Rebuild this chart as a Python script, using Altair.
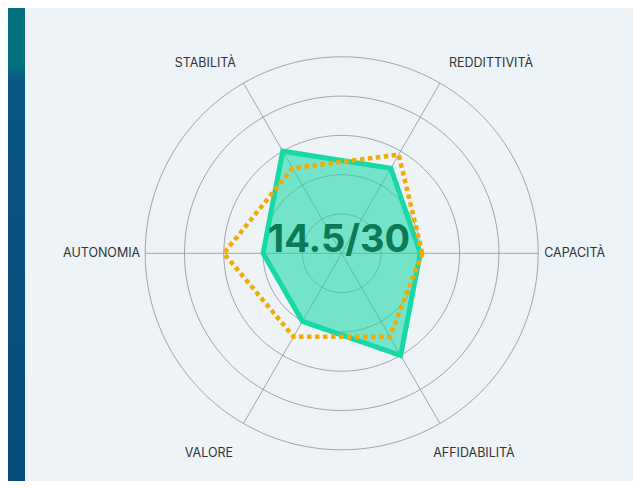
import altair as alt
import pandas as pd

# ---- data -------------------------------------------------------------
categories = ["CAPACITÀ", "REDDITTIVITÀ", "STABILITÀ", "AUTONOMIA", "VALORE", "AFFIDABILITÀ"]
company = [2.0, 2.5, 3.0, 2.0, 2.0, 3.0]
benchmark = [2.05, 2.9, 2.5, 3.0, 2.45, 2.45]
ring_levels = [1, 2, 3, 4, 5]
max_value = 5
score_text = "14.5/30"

# ---- geometry of the plot area ---------------------------------------
W, H = 625, 473
PX = 39.3            # pixels per unit
CX, CY = 333.7, 245.3  # centre of the radar inside the plot area
x_dom = [-CX / PX, (W - CX) / PX]
y_dom = [-(H - CY) / PX, CY / PX]
xs = alt.Scale(domain=x_dom, nice=False, zero=False)
ys = alt.Scale(domain=y_dom, nice=False, zero=False)

n = len(categories)
cat_df = pd.DataFrame({"cat": categories, "idx": list(range(n))})
series_df = pd.concat([
    pd.DataFrame({"cat": categories, "idx": list(range(n)), "value": company, "series": "company"}),
    pd.DataFrame({"cat": categories, "idx": list(range(n)), "value": benchmark, "series": "benchmark"}),
], ignore_index=True)

ANG = f"datum.idx * 2 * PI / {n}"
GRID = "#929292"


def X(field):
    return alt.X(field, type="quantitative", scale=xs, axis=None)


def Y(field):
    return alt.Y(field, type="quantitative", scale=ys, axis=None)


# decorative left strip (page background)
strip = alt.Chart(alt.Data(values=[{"a": 1}])).mark_rect(
    fill={
        "gradient": "linear", "x1": 0, "y1": 0, "x2": 0, "y2": 1,
        "stops": [
            {"offset": 0, "color": "#05717f"},
            {"offset": 0.12, "color": "#05717f"},
            {"offset": 0.16, "color": "#0a5486"},
            {"offset": 1, "color": "#074b7b"},
        ],
    }
).encode(x=alt.value(0), x2=alt.value(17), y=alt.value(0), y2=alt.value(H))

rings = (
    alt.Chart(alt.sequence(0, 362, 2, as_="deg"))
    .transform_calculate(level=str(ring_levels))
    .transform_flatten(["level"])
    .transform_calculate(
        x="datum.level * cos(datum.deg * PI / 180)",
        y="datum.level * sin(datum.deg * PI / 180)",
    )
    .mark_line(stroke=GRID, strokeWidth=0.8)
    .encode(x=X("x"), y=Y("y"), detail="level:N", order="deg:Q")
)

spokes = (
    alt.Chart(cat_df)
    .transform_calculate(a=ANG)
    .transform_calculate(
        x0="0", y0="0",
        x1=f"{max_value} * cos(datum.a)",
        y1=f"{max_value} * sin(datum.a)",
    )
    .mark_rule(stroke=GRID, strokeWidth=0.8)
    .encode(x=X("x0"), y=Y("y0"), x2="x1:Q", y2="y1:Q")
)


def polygon(name, **mark):
    return (
        alt.Chart(series_df)
        .transform_filter(alt.datum.series == name)
        .transform_calculate(a=ANG)
        .transform_calculate(x="datum.value * cos(datum.a)", y="datum.value * sin(datum.a)")
        .mark_line(interpolate="linear-closed", **mark)
        .encode(x=X("x"), y=Y("y"), order="idx:Q")
    )


poly_company = polygon(
    "company", stroke="#16d9a6", strokeWidth=5, fill="#16d9a6", fillOpacity=0.57,
    strokeJoin="miter",
)
poly_bench = polygon(
    "benchmark", stroke="#f3aa03", strokeWidth=4.5, strokeDash=[4.5, 3.5],
    strokeJoin="miter",
)

score = alt.Chart(alt.Data(values=[{"t": score_text, "x": 0, "y": 0}])).mark_text(
    font="Inter", fontSize=38, fontWeight="bold", color="#0a7a57",
    align="center", baseline="alphabetic", dx=-2.7, dy=-1,
).encode(x=X("x"), y=Y("y"), text="t:N")


def label(name, align, baseline, dx, dy):
    return (
        alt.Chart(cat_df)
        .transform_filter(alt.datum.cat == name)
        .transform_calculate(a=ANG)
        .transform_calculate(
            x=f"{max_value} * cos(datum.a)", y=f"{max_value} * sin(datum.a)"
        )
        .mark_text(
            font="Inter", fontSize=12.5, color="#333333",
            align=align, baseline=baseline, dx=dx, dy=dy,
        )
        .encode(x=X("x"), y=Y("y"), text="cat:N")
    )


labels = [
    label(categories[0], "left", "middle", 6, 0),
    label(categories[1], "left", "alphabetic", 9, -16),
    label(categories[2], "right", "alphabetic", -7.5, -16),
    label(categories[3], "right", "middle", -5, 0),
    label(categories[4], "center", "alphabetic", -34.5, 33.8),
    label(categories[5], "center", "alphabetic", 34, 33.5),
]

chart = (
    alt.layer(strip, rings, spokes, poly_company, poly_bench, score, *labels)
    .properties(width=W, height=H, background="#edf3f7", padding=0, autosize="none")
    .configure_view(strokeWidth=0)
)

chart.save("out.html", embed_options={"renderer": "svg", "actions": False})
